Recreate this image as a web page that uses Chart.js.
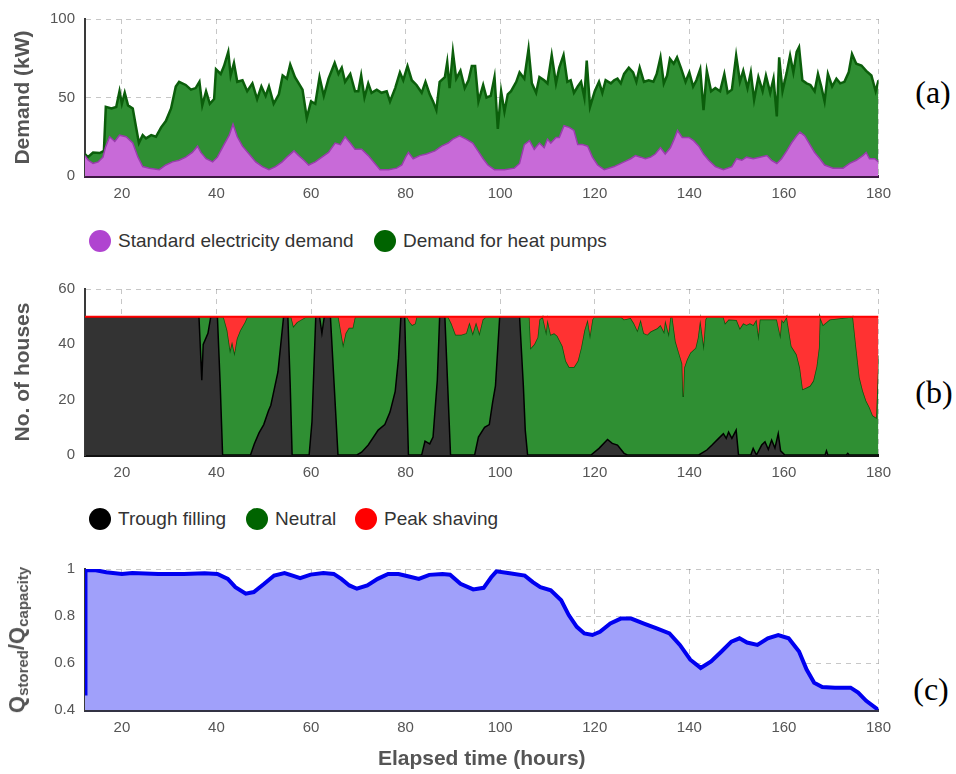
<!DOCTYPE html>
<html>
<head>
<meta charset="utf-8">
<script src="https://cdn.jsdelivr.net/npm/chart.js@4.4.1/dist/chart.umd.min.js"></script>
<style>
  html, body { margin:0; padding:0; background:#fff; }
  body { width:956px; height:774px; overflow:hidden; position:relative; font-family:"Liberation Sans", Arial, sans-serif; }
  canvas { position:absolute; left:0; }
  .item { position:absolute; display:flex; align-items:center; height:22px; font-size:19px; color:#333; white-space:nowrap; }
  .dot { display:inline-block; width:22px; height:22px; border-radius:50%; margin-right:7px; flex:none; }
  .tag { position:absolute; transform:translate(-50%,-50%); font-family:"Liberation Serif","Times New Roman",serif; font-size:32px; line-height:1; color:#000; white-space:nowrap; }
  .qlab { position:absolute; left:18px; top:640px; transform:translate(-50%,-50%) rotate(-90deg); font-weight:bold; font-size:22px; line-height:1; color:#555; white-space:nowrap; }
  .qlab sub { font-size:15px; vertical-align:-4px; }
</style>
</head>
<body>
<canvas id="ca" width="900" height="215" style="top:0px"></canvas>
<canvas id="cb" width="900" height="224" style="top:270px"></canvas>
<canvas id="cc" width="900" height="224" style="top:550px"></canvas>

<div class="item" style="left:89px;top:230px"><span class="dot" style="background:#b044d0"></span>Standard electricity demand</div>
<div class="item" style="left:374px;top:230px"><span class="dot" style="background:#006400"></span>Demand for heat pumps</div>

<div class="item" style="left:89px;top:508px"><span class="dot" style="background:#000"></span>Trough filling</div>
<div class="item" style="left:246px;top:508px"><span class="dot" style="background:#006400"></span>Neutral</div>
<div class="item" style="left:355px;top:508px"><span class="dot" style="background:#ff0000"></span>Peak shaving</div>

<div class="qlab">Q<sub>stored</sub>/Q<sub>capacity</sub></div>

<div class="tag" style="left:933px;top:92px">(a)</div>
<div class="tag" style="left:934px;top:392px">(b)</div>
<div class="tag" style="left:931px;top:689px">(c)</div>

<script>
// ---------- axis values ----------
const X_MIN = 12.2, X_MAX = 180;
const xTicks = [20, 40, 60, 80, 100, 120, 140, 160, 180];
const yTicksA = [0, 50, 100];
const yTicksB = [0, 20, 40, 60];
const yTicksC = [0.4, 0.6, 0.8, 1];
const yTickLabelsC = ['0.4', '0.6', '0.8', '1'];

// ---------- (a) demand, kW : [hour, value] ----------
const standardDemand = [[12.2,13],[12.9,10],[13.9,8],[15,9],[16,12],[16.5,18],[17.4,25],[18.5,22],[19.5,26],[20.9,25],[22.3,21],[23.4,12],[24.4,6],[25.8,5],[27.9,4],[29.3,7],[30.7,9],[32.1,10],[33.5,12],[34.9,15],[36,19],[36.7,15],[37.8,11],[39.2,9],[40.2,12],[41.6,20],[42.7,26],[43.5,33],[44.4,25],[45.5,19],[46.9,14],[48.3,9],[49.7,6],[51.1,4],[52.5,6],[53.9,9],[54.9,12],[56.4,16],[57.4,13],[58.5,10],[59.5,7],[60.9,9],[62.3,12],[63.7,15],[65.1,21],[66.2,20],[67.2,25],[68.3,21],[69.3,17],[70.7,17],[72.1,13],[73.5,8],[74.6,4],[76.4,4],[78.1,5],[79.2,7],[80,12],[80.6,15],[81.6,11],[83,13],[84.4,14],[86.2,16],[87.6,19],[89,21],[90,23.5],[91.4,25.6],[92.8,23.5],[94.2,21],[95.3,16],[96.4,11],[97.4,7],[98.8,4],[100.9,4],[103,5],[104.1,8],[105.1,20],[106.2,22.5],[107.2,17],[108.3,21],[109.3,18],[110,23.5],[110.7,21],[111.8,24.6],[112.5,24.6],[113.5,32],[114.6,31],[115.6,29],[116.4,20],[117.4,20],[118.5,19],[119.5,12],[120.6,7],[122,4],[124.1,6],[126.2,9],[127.6,11],[128.6,13],[129.7,12],[130.7,11],[131.8,12],[132.8,14],[133.9,18],[134.9,14],[136,18],[136.8,23.5],[137.5,29],[138.5,24.6],[139.9,24.6],[140.9,22.5],[142,19],[143,14],[144.1,10],[145.5,6],[147.2,4],[149,6],[150,11],[151.1,10],[152.1,12],[153.5,11],[154.9,12],[156.4,13],[157.4,10],[158.5,8],[159.5,11],[160.6,16],[161.6,21],[162.7,25.6],[163.4,28],[164.4,25.6],[165.5,20],[166.5,15],[167.6,11],[168.6,7],[170.4,5],[172.5,5],[173.9,8],[175.3,10],[176.7,13],[177.4,15],[178.1,11],[179.2,11],[180,9]];

const heatPumpDemandTop = [[12.2,14],[12.4,14],[12.8,12],[13.9,15],[15.3,14.6],[16.2,16],[16.6,44],[17.8,43],[18.8,44],[19.5,54],[20,46],[20.6,53],[21.3,45],[22.3,43],[23,31],[23.6,21],[24.4,26],[25.1,24],[26.2,26],[27.2,25],[28.3,31],[29.3,35],[30.4,43],[31.4,57],[32.1,60],[33.5,58],[34.6,55],[35.6,56],[36.4,60],[37,45],[37.8,54],[38.6,46],[39.5,49],[39.9,68],[40.9,65],[41.6,70],[42.5,79],[43,64],[43.7,72],[44.4,60],[45.5,61],[46.5,54],[47.6,59],[48.6,49],[49.5,57],[50.4,51],[51.1,57],[52.1,46],[53.2,52],[54,64],[54.9,62],[55.6,71],[56.6,63],[57.4,59],[58.2,55],[59.1,37],[60,47.5],[60.9,46],[61.8,63],[62.7,51],[63.7,62],[65,72],[65.8,65],[66.5,69],[67.2,60],[68.3,65],[69.3,54],[70,54],[70.6,64],[71.3,50],[72.1,59],[72.8,53],[73.9,55],[74.9,53],[76,54],[76.7,47.5],[77.8,56],[78.8,66],[79.5,61],[80.4,70],[81.3,61],[82.3,58],[83.4,53],[84.2,60],[85.1,52],[85.8,47.5],[86.5,42],[87.2,60],[88.3,63],[88.8,72.5],[89.3,56],[90,79],[90.7,62],[91.6,67],[92.5,56],[93.3,61],[94,70],[94.7,70],[95.4,47.5],[96.4,58],[97.1,50],[98,51],[98.8,63],[99.5,30],[100.2,54],[100.9,41],[101.6,52],[102.3,54],[103.4,60],[104.1,66],[105.1,62],[106,81],[106.7,59],[107.6,53],[108.3,63],[109.3,61],[110,59],[110.9,77],[111.8,59],[112.5,69],[113.4,77],[114.2,60],[114.9,61],[115.6,53],[116.4,57],[117.1,60],[117.8,50],[118.3,73.5],[119,44],[120,54],[120.9,60],[121.6,53],[122.3,61],[123.4,59],[124.1,61],[124.8,62],[125.5,59],[126.2,65],[127.2,69],[128.1,66],[128.8,60],[129.5,69],[130.4,60],[131.4,61],[132.4,60],[133.1,65],[133.9,75.6],[134.6,59],[135.3,64],[135.9,74.6],[136.7,71.5],[137.4,75.6],[138.2,69],[139.2,60],[140,66],[140.8,57],[141.5,61],[142.3,68],[143,42],[143.7,67],[144.6,54],[145.5,56],[146.5,54],[147.4,65],[148.1,53],[149,55],[149.9,76.7],[150.7,60],[151.4,67],[152.3,56],[153,66],[153.7,48.5],[154.6,63],[155.5,54],[156.2,64],[157.1,53],[157.8,62],[158.5,38],[159,75.6],[159.7,54],[160.6,66],[161.3,76.7],[162,66],[162.7,79],[163.2,82],[163.9,61],[164.8,59],[165.6,58],[166.5,54],[167.2,65],[167.9,57],[168.6,47.5],[169.3,65],[170.2,57],[171.1,62],[171.9,59],[172.8,60],[173.7,66],[174.4,77.7],[175.3,71.5],[176.4,70.4],[177.4,67],[178.5,64],[179.4,54],[180,61]];

// ---------- (b) number of houses (stack tops) : [hour, value] ----------
const troughFillingTop = [[12.2,50],[36.3,50],[36.9,27],[37.2,40],[38.2,44],[38.8,50],[40.2,50],[40.8,25],[41.3,0],[47.2,0],[48,4],[49,8],[50,11],[51,16],[51.5,18],[52,22],[53,30],[53.6,40],[54.2,50],[55.1,50],[55.6,25],[56,0],[59.6,0],[60.2,12],[61,50],[61.8,50],[62.3,44],[62.8,50],[64.1,50],[64.9,25],[65.7,0],[69.7,0],[70.7,1],[72.1,3.6],[74.2,9],[75.6,11],[76.7,15.5],[77.8,23],[78.5,35],[79,50],[79.8,50],[80.6,0],[83.4,0],[84.1,5],[85.1,4],[85.8,6.5],[86.7,27],[87.2,50],[88.3,50],[89.5,0],[94.6,0],[95.4,6.5],[96.7,10],[97.7,11],[98.4,19],[99,25],[99.9,50],[104.1,50],[104.9,25],[105.3,9],[105.8,0],[119.2,0],[120.9,2.4],[122.7,5.6],[123.7,4.2],[124.8,3.6],[126.2,0.6],[126.9,0],[142,0],[143.7,1.8],[144.8,3.6],[146.2,6],[147.2,7.7],[147.8,6],[148.3,8.3],[149,6],[149.9,9],[150.4,0],[153,0],[153.5,2.4],[154.2,0],[155.3,3.6],[156,4.8],[156.7,2],[157.4,5.4],[158.1,2.5],[158.8,7.7],[159.3,1.5],[160.2,0],[168.7,0],[169,1.5],[169.3,0],[173.2,0],[173.5,0.6],[173.8,0],[180,0]];

const neutralTop = [[12.2,50],[41.5,50],[42.3,45],[42.9,38],[43.3,41],[43.8,37],[44.3,42],[45,45],[46,48],[46.5,50],[55.8,50],[56.3,46.5],[57,48],[58,49],[59,50],[65.8,50],[66.3,45],[66.8,40],[67.3,44],[68,46],[68.8,46],[69.3,50],[80.3,50],[80.9,48],[81.4,47],[82,47.5],[82.3,50],[89,50],[89.7,47.5],[90.6,43.5],[91.8,43.5],[92.8,44],[93.5,48],[94.2,44],[94.9,48],[95.6,44],[96.3,49],[97,50],[106.2,50],[106.5,38.7],[107.2,40],[107.9,42.5],[108.3,49],[109,50],[109.7,44.6],[110,49],[110.7,43.5],[111.4,44],[112.1,43],[113.2,39.3],[113.9,34],[114.6,31.8],[115.6,31.8],[116.4,34],[117.1,38.7],[117.8,45],[118.5,49],[119,43.5],[119.5,49],[119.9,50],[125.5,50],[126.2,49],[127.6,49.5],[128.3,47.6],[129,45],[129.7,49],[130.4,44],[131.1,43.5],[131.8,44.6],[133.2,45.8],[133.9,47],[134.6,44.6],[134.9,48.8],[135.6,44],[136,50],[136.4,50],[137.1,41],[137.8,37],[138.5,33],[138.7,21],[138.9,31.5],[139.5,34.5],[140.2,37],[141.3,38.7],[141.8,42.3],[142.3,49],[143,40],[143.4,49],[143.7,50],[147.2,50],[147.6,47.6],[148.3,49],[150,48.8],[150.7,45.8],[151.4,47.6],[152.1,47],[152.8,47.6],[153.5,47],[154.2,49],[154.6,43.5],[154.9,49],[158.5,49],[159.2,43.5],[159.5,49],[159.9,48],[160.6,50],[161.6,39.3],[162.7,36.3],[163.4,31.5],[164,23.8],[164.8,24.4],[165.5,25],[166.2,26.8],[166.9,32],[167.4,38.7],[167.6,50],[168.3,47],[169,48],[169.7,49],[174.6,50],[175.3,38.7],[176,28],[176.7,23.2],[177.4,19.6],[178.1,17.3],[178.8,14.3],[179.5,13.5],[180,36]];

const peakShavingTop = [[12.2,50],[180,50]];

// ---------- (c) stored / capacity : [hour, value] ----------
const storageRatio = [[12.2,0.47],[12.3,0.995],[14.5,0.995],[16.7,0.986],[20,0.979],[22.2,0.983],[27.7,0.979],[33.1,0.979],[37.5,0.982],[40.2,0.979],[42.4,0.958],[44,0.923],[46.2,0.895],[47.9,0.902],[50.1,0.937],[52.2,0.972],[54.4,0.983],[56.1,0.972],[57.7,0.961],[59.9,0.976],[62.6,0.983],[64.8,0.979],[66.4,0.958],[68.1,0.93],[69.7,0.916],[71.9,0.93],[74.1,0.958],[76.3,0.979],[78.5,0.979],[80.7,0.968],[82.8,0.958],[85,0.975],[87.8,0.979],[89.4,0.976],[91.6,0.937],[94.3,0.913],[96.5,0.92],[98.1,0.965],[99.2,0.99],[102,0.982],[105.2,0.972],[106.9,0.944],[108.5,0.923],[110.7,0.909],[112.9,0.867],[114.5,0.804],[116.2,0.754],[117.8,0.726],[119.5,0.719],[121.1,0.733],[123.3,0.768],[125.5,0.789],[127.7,0.789],[130.4,0.768],[133.1,0.747],[135.8,0.726],[138,0.677],[140.2,0.614],[142.4,0.579],[144.6,0.607],[146.8,0.649],[148.9,0.691],[150.6,0.705],[152.2,0.687],[154.4,0.677],[156.6,0.705],[158.8,0.719],[161,0.705],[163.2,0.649],[164.8,0.572],[166.4,0.516],[168.1,0.498],[170.8,0.495],[174.1,0.495],[175.7,0.474],[177.4,0.439],[179.6,0.406],[180,0.4]];

// ---------- helpers ----------
const FONT = "'Liberation Sans', Arial, sans-serif";
const GRID = 'rgba(0,0,0,0.22)';
const TICK_COLOR = '#555';
const pts = arr => arr.map(p => ({x: p[0], y: p[1]}));

function xAxis(borderColor, extra) {
  return Object.assign({
    type: 'linear', min: X_MIN, max: X_MAX,
    afterBuildTicks: s => { s.ticks = xTicks.map(v => ({value: v})); },
    ticks: { font: {size: 15, family: FONT}, color: TICK_COLOR, padding: 9, maxRotation: 0, autoSkip: false },
    grid: { color: GRID, lineWidth: 1, drawTicks: false },
    border: { display: true, color: borderColor, width: 3, dash: [5, 5] },
    afterFit: s => { s.height = 39; },
    z: 1
  }, extra || {});
}
function yAxis(min, max, ticks, title, labels) {
  return {
    min: min, max: max,
    afterBuildTicks: s => { s.ticks = ticks.map(v => ({value: v})); },
    afterFit: s => { s.width = 85; },
    ticks: {
      font: {size: 15, family: FONT}, color: TICK_COLOR, padding: 10,
      callback: (v, i) => labels ? labels[i] : String(v)
    },
    grid: { color: GRID, lineWidth: 1, drawTicks: false },
    border: { display: true, color: '#3a3a3a', width: 2, dash: [5, 5] },
    title: title ? { display: true, text: title, color: '#555', font: {size: 21, weight: 'bold', family: FONT}, padding: {top: 11, bottom: 0} } : { display: false },
    z: 1
  };
}
function baseOptions(padTop, scales) {
  return {
    responsive: false, animation: false, devicePixelRatio: 1,
    layout: { padding: { top: padTop, right: 18, left: 0, bottom: 0 } },
    plugins: { legend: { display: false }, tooltip: { enabled: false } },
    elements: { point: { radius: 0 }, line: { tension: 0 } },
    scales: scales
  };
}

// ---------- (a) ----------
new Chart(document.getElementById('ca'), {
  type: 'line',
  data: { datasets: [
    { label: 'Standard electricity demand', data: pts(standardDemand), borderColor: '#9a3cad', borderWidth: 1.5, backgroundColor: '#c86ad8', fill: 'origin' },
    { label: 'Demand for heat pumps', data: pts(heatPumpDemandTop), borderColor: '#0b5e0b', borderWidth: 2.5, backgroundColor: '#2f8f33', fill: 'origin' }
  ]},
  options: baseOptions(16, { x: xAxis('#3d1842'), y: yAxis(0, 100, yTicksA, 'Demand (kW)') })
});

// ---------- (b) ----------
new Chart(document.getElementById('cb'), {
  type: 'line',
  data: { datasets: [
    { label: 'Trough filling', data: pts(troughFillingTop), borderColor: '#000', borderWidth: 1.5, backgroundColor: '#333333', fill: 'origin', order: 1 },
    { label: 'Neutral', data: pts(neutralTop), borderColor: '#0b550b', borderWidth: 1.5, backgroundColor: '#2f8f33', fill: 'origin', order: 2 },
    { label: 'Peak shaving', data: pts(peakShavingTop), borderColor: '#ff0000', borderWidth: 2, backgroundColor: '#ff3232', fill: '-1', order: 0 }
  ]},
  options: baseOptions(17, { x: xAxis('#111'), y: yAxis(0, 60, yTicksB, 'No. of houses') })
});

// ---------- (c) ----------
new Chart(document.getElementById('cc'), {
  type: 'line',
  data: { datasets: [
    { label: 'Qstored/Qcapacity', data: pts(storageRatio), borderColor: '#0000f0', borderWidth: 4, backgroundColor: '#a0a0fa', fill: 'start' }
  ]},
  options: baseOptions(16, {
    x: xAxis('#333344', {
      afterFit: s => { s.height = 64; },
      title: { display: true, text: 'Elapsed time (hours)', color: '#555', font: {size: 21, weight: 'bold', family: FONT}, padding: {top: 0, bottom: 2} }
    }),
    y: yAxis(0.4, 1, yTicksC, null, yTickLabelsC)
  })
});
</script>
</body>
</html>
